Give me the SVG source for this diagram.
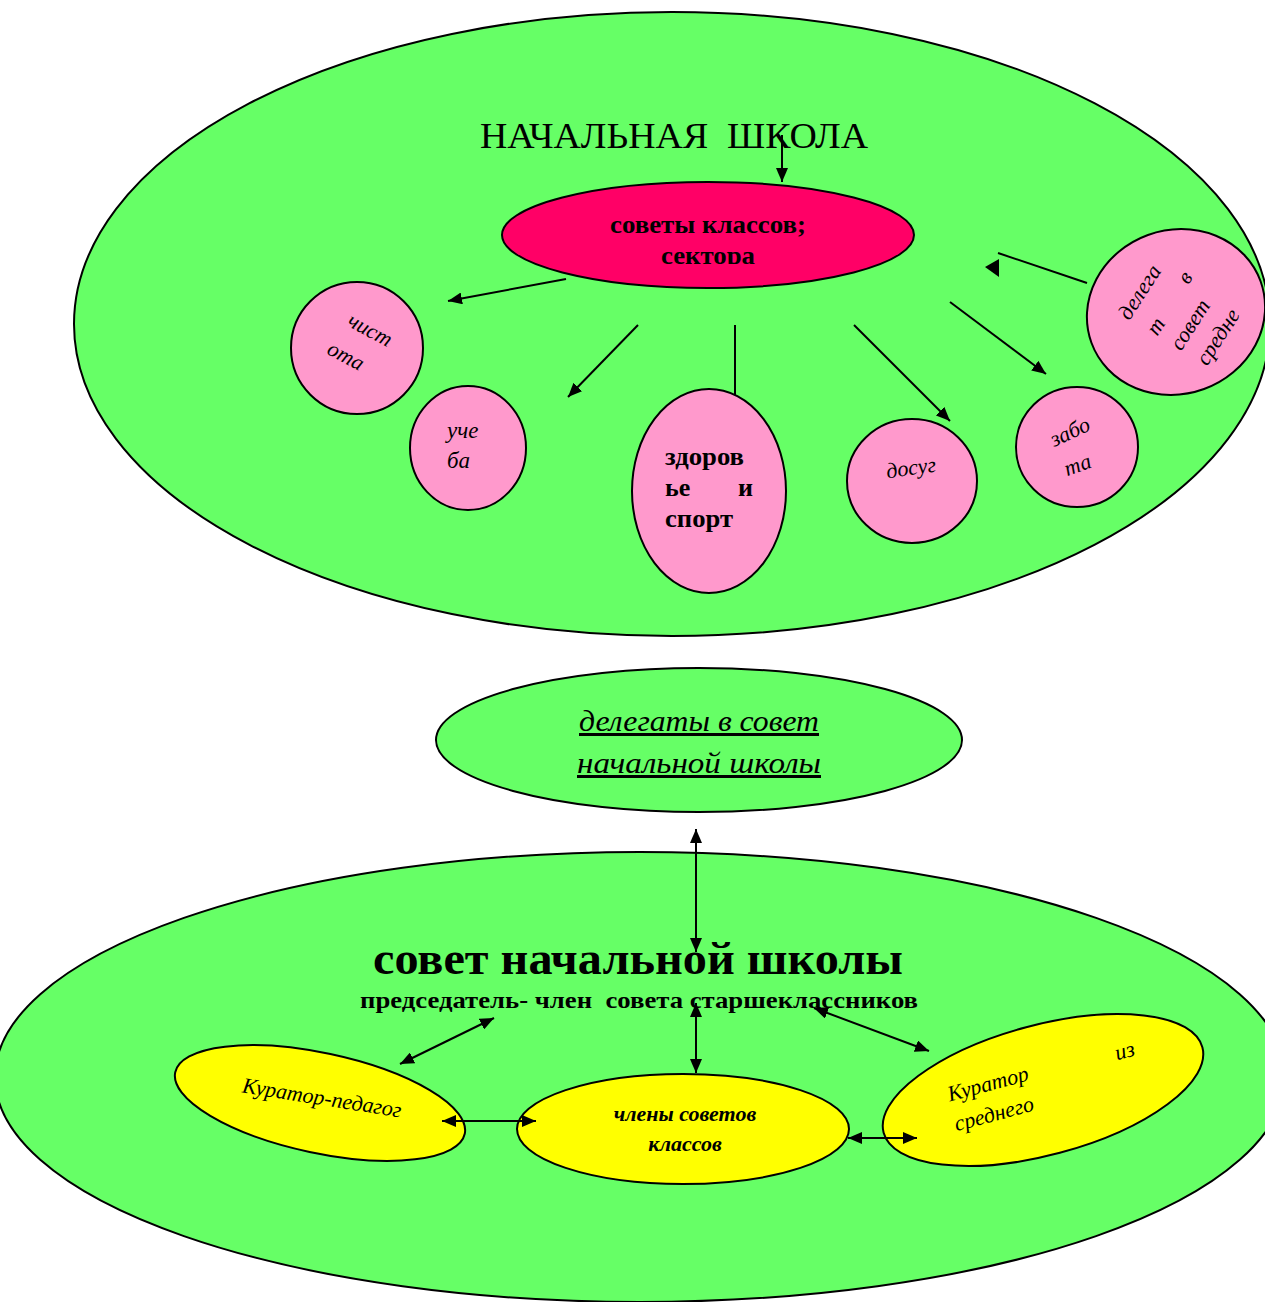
<svg xmlns="http://www.w3.org/2000/svg" width="1265" height="1302" viewBox="0 0 1265 1302">
<style>
.big{fill:#66FF66;stroke:#000;stroke-width:2}
.pink{fill:#FF99CC;stroke:#000;stroke-width:2}
.yel{fill:#FFFF00;stroke:#000;stroke-width:2}
.red{fill:#FF0066;stroke:#000;stroke-width:2}
.ln{stroke:#000;stroke-width:2;fill:none}
.it{font-family:"Liberation Serif",serif;font-style:italic;fill:#000}
.bd{font-family:"Liberation Serif",serif;font-weight:bold;fill:#000}
.rg{font-family:"Liberation Serif",serif;fill:#000}
</style>
<defs>
<marker id="ah" viewBox="0 0 14 12" refX="14" refY="6" markerWidth="14" markerHeight="12" markerUnits="userSpaceOnUse" orient="auto-start-reverse">
<path d="M0,0 L14,6 L0,12 Z" fill="#000"/>
</marker>
<clipPath id="redclip"><rect x="500" y="180" width="420" height="84"/></clipPath>
</defs>
<rect width="1265" height="1302" fill="#fff"/>

<g id="nachalnaya-shkola">
<ellipse class="big" cx="672" cy="324" rx="598" ry="312"/>
<text class="rg" x="480" y="148" font-size="36" textLength="388" lengthAdjust="spacingAndGlyphs" xml:space="preserve">НАЧАЛЬНАЯ  ШКОЛА</text>
</g>

<g id="sovety-klassov">
<ellipse class="red" cx="708" cy="235" rx="206" ry="53"/>
<g clip-path="url(#redclip)">
<text class="bd" x="610" y="233" font-size="26" textLength="196" lengthAdjust="spacingAndGlyphs">советы классов;</text>
<text class="bd" x="661" y="264" font-size="26" textLength="94" lengthAdjust="spacingAndGlyphs">сектора</text>
</g>
</g>

<g id="chistota">
<circle class="pink" cx="357" cy="348" r="66"/>
<text class="it" x="370" y="337" font-size="22" text-anchor="middle" transform="rotate(28,370,330)">чист</text>
<text class="it" x="346" y="363" font-size="22" text-anchor="middle" transform="rotate(28,346,356)">ота</text>
</g>

<g id="ucheba">
<ellipse class="pink" cx="468" cy="448" rx="58" ry="62"/>
<text class="it" x="447" y="438" font-size="23">уче</text>
<text class="it" x="447" y="468" font-size="23">ба</text>
</g>

<g id="zdorovie">
<ellipse class="pink" cx="709" cy="491" rx="77" ry="102"/>
<text class="bd" x="665" y="465" font-size="26" textLength="79" lengthAdjust="spacingAndGlyphs">здоров</text>
<text class="bd" x="665" y="496" font-size="26">ье</text>
<text class="bd" x="738" y="496" font-size="26">и</text>
<text class="bd" x="665" y="527" font-size="26" textLength="68" lengthAdjust="spacingAndGlyphs">спорт</text>
</g>

<g id="dosug">
<ellipse class="pink" cx="912" cy="481" rx="65" ry="62"/>
<text class="it" x="911" y="475" font-size="22" text-anchor="middle" transform="rotate(-8,911,468)">досуг</text>
</g>

<g id="zabota">
<ellipse class="pink" cx="1077" cy="447" rx="61" ry="60"/>
<text class="it" x="1070" y="439" font-size="22" text-anchor="middle" transform="rotate(-25,1070,432)">забо</text>
<text class="it" x="1078" y="472" font-size="22" text-anchor="middle" transform="rotate(-20,1078,466)">та</text>
</g>

<g id="delegat-sredne">
<ellipse class="pink" cx="1176" cy="312" rx="90" ry="82" transform="rotate(-20,1176,312)"/>
<g transform="translate(1175,315) rotate(-57)">
<text class="it" x="0" y="-35" font-size="22" text-anchor="middle">делега</text>
<text class="it" x="-20" y="-3" font-size="22" text-anchor="middle">т</text>
<text class="it" x="37" y="-5" font-size="22" text-anchor="middle">в</text>
<text class="it" x="0" y="25" font-size="22" text-anchor="middle">совет</text>
<text class="it" x="5" y="55" font-size="22" text-anchor="middle">средне</text>
</g>
</g>

<g id="delegaty-nachalnoy">
<ellipse class="big" cx="699" cy="740" rx="263" ry="72"/>
<text class="it" x="699" y="731" font-size="30" text-anchor="middle" text-decoration="underline" textLength="240" lengthAdjust="spacingAndGlyphs">делегаты в совет</text>
<text class="it" x="699" y="773" font-size="30" text-anchor="middle" text-decoration="underline" textLength="244" lengthAdjust="spacingAndGlyphs">начальной школы</text>
</g>

<g id="sovet-nachalnoy">
<ellipse class="big" cx="640" cy="1077" rx="645" ry="225"/>
<text class="bd" x="373" y="974" font-size="46" textLength="530" lengthAdjust="spacingAndGlyphs">совет начальной школы</text>
<text class="bd" x="360" y="1008" font-size="24" textLength="558" lengthAdjust="spacingAndGlyphs" xml:space="preserve">председатель- член  совета старшеклассников</text>
</g>

<g id="kurator-pedagog">
<ellipse class="yel" cx="320" cy="1103" rx="148" ry="50" transform="rotate(12,320,1103)"/>
<text class="it" x="322" y="1105" font-size="22" text-anchor="middle" transform="rotate(9,322,1098)">Куратор-педагог</text>
</g>

<g id="chleny-sovetov">
<ellipse class="yel" cx="683" cy="1129" rx="166" ry="55"/>
<text class="it" x="685" y="1121" font-size="22" font-weight="bold" text-anchor="middle">члены советов</text>
<text class="it" x="685" y="1151" font-size="22" font-weight="bold" text-anchor="middle">классов</text>
</g>

<g id="kurator-srednego">
<ellipse class="yel" cx="1043" cy="1090" rx="165" ry="65" transform="rotate(-15,1043,1090)"/>
<text class="it" x="988" y="1091" font-size="22" text-anchor="middle" transform="rotate(-15,988,1084)">Куратор</text>
<text class="it" x="994" y="1121" font-size="22" text-anchor="middle" transform="rotate(-15,994,1114)">среднего</text>
<text class="it" x="1125" y="1058" font-size="22" text-anchor="middle" transform="rotate(-15,1125,1052)">из</text>
</g>

<g id="connectors">
<line class="ln" x1="782" y1="135" x2="782" y2="182" marker-end="url(#ah)"/>
<line class="ln" x1="566" y1="279" x2="448" y2="301" marker-end="url(#ah)"/>
<line class="ln" x1="638" y1="325" x2="568" y2="397" marker-end="url(#ah)"/>
<line class="ln" x1="735" y1="325" x2="735" y2="395"/>
<line class="ln" x1="854" y1="325" x2="950" y2="421" marker-end="url(#ah)"/>
<line class="ln" x1="950" y1="302" x2="1046" y2="374" marker-end="url(#ah)"/>
<line class="ln" x1="998" y1="253" x2="1087" y2="283"/>
<path d="M985,267 L999,259 L999,277 Z" fill="#000"/>
<line class="ln" x1="696" y1="829" x2="696" y2="952" marker-start="url(#ah)" marker-end="url(#ah)"/>
<line class="ln" x1="400" y1="1064" x2="494" y2="1018" marker-start="url(#ah)" marker-end="url(#ah)"/>
<line class="ln" x1="696" y1="1003" x2="696" y2="1073" marker-start="url(#ah)" marker-end="url(#ah)"/>
<line class="ln" x1="814" y1="1008" x2="929" y2="1051" marker-start="url(#ah)" marker-end="url(#ah)"/>
<line class="ln" x1="442" y1="1121" x2="536" y2="1121" marker-start="url(#ah)" marker-end="url(#ah)"/>
<line class="ln" x1="848" y1="1138" x2="917" y2="1138" marker-start="url(#ah)" marker-end="url(#ah)"/>
</g>
</svg>
